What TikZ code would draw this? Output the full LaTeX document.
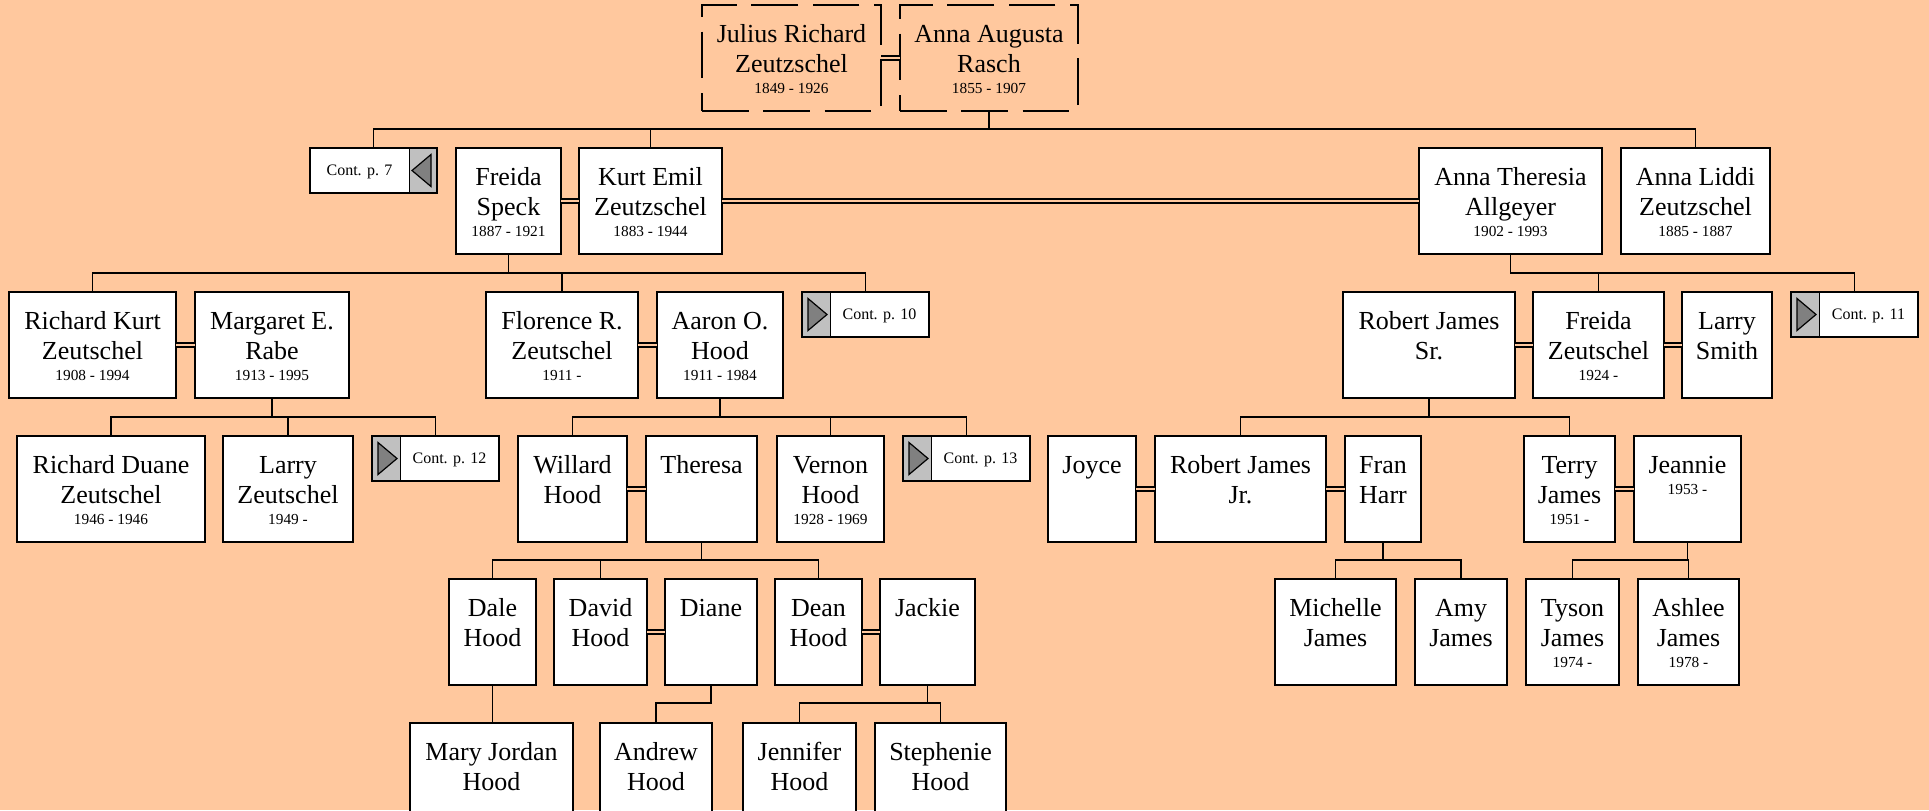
\documentclass[tikz,border=0pt]{standalone}
\usepackage{fontspec}
\setmainfont{Liberation Serif}
\definecolor{bg}{RGB}{255,200,158}
\definecolor{contgray}{RGB}{192,192,192}
\definecolor{trigray}{RGB}{128,128,128}
\newcommand\namefont{\fontsize{19.5}{22.5}\selectfont}
\newcommand\datefont{\fontsize{11.5}{15.75}\selectfont}
\newcommand\contfont{\fontsize{12}{14}\selectfont}
\newcommand\pers[3]{\parbox[c][79.5pt][t]{\dimexpr 0.75pt*#1\relax}{\centering\namefont\rule{0pt}{27.75pt}#2\par{\datefont #3\par}}}
\tikzset{
 person/.style={draw=black, line width=1.3pt, fill=white, inner sep=0pt, outer sep=0pt, anchor=north west},
 dperson/.style={person, fill=none, line width=1.1pt, dash pattern=on 35pt off 11pt},
 contbase/.style={draw=black, line width=1.3pt, fill=white, inner sep=0pt, outer sep=0pt, anchor=north west,
   minimum width=95.25pt, minimum height=33.75pt, text height=8.4pt, text depth=0.3pt, font=\contfont},
 contR/.style={contbase, path picture={
   \fill[contgray] (path picture bounding box.south west) rectangle ([xshift=21pt]path picture bounding box.north west);
   \draw[line width=0.6pt] ([xshift=21pt]path picture bounding box.south west) -- ([xshift=21pt]path picture bounding box.north west);
   \filldraw[fill=trigray, draw=black, line width=0.9pt] ([xshift=4.5pt,yshift=12pt]path picture bounding box.west) -- ([xshift=18.75pt]path picture bounding box.west) -- ([xshift=4.5pt,yshift=-12pt]path picture bounding box.west) -- cycle;
 }},
 contL/.style={contbase, path picture={
   \fill[contgray] (path picture bounding box.south east) rectangle ([xshift=-21pt]path picture bounding box.north east);
   \draw[line width=0.6pt] ([xshift=-21pt]path picture bounding box.south east) -- ([xshift=-21pt]path picture bounding box.north east);
   \filldraw[fill=trigray, draw=black, line width=0.9pt] ([xshift=-4.5pt,yshift=12pt]path picture bounding box.east) -- ([xshift=-18.75pt]path picture bounding box.east) -- ([xshift=-4.5pt,yshift=-12pt]path picture bounding box.east) -- cycle;
 }},
 conn/.style={draw=black, line width=1.3pt},
 marr/.style={draw=black, line width=1.2pt, double=bg, double distance=2.2pt},
}
\begin{document}
\begin{tikzpicture}[x=0.75pt,y=-0.75pt]
\useasboundingbox (0,0) rectangle (1929,810);
\clip (0,0) rectangle (1929,810);
\fill[bg] (0,0) rectangle (1929,810);
\coordinate (b1) at (0,129);
\coordinate (b2) at (0,273);
\coordinate (b3) at (0,417);
\coordinate (b4) at (0,560);
\coordinate (b5) at (0,703);
% generation 0
\node[dperson] (julius) at (702,5) {\pers{179}{Julius Richard\\Zeutzschel}{1849 - 1926}};
\node[dperson] (annaaug) at (900,5) {\pers{178}{Anna Augusta\\Rasch}{1855 - 1907}};
% generation 1
\node[contL] (cont7) at (310,148) {\makebox[74.25pt]{Cont. p. 7}\hspace*{21pt}};
\node[person] (freidaS) at (456,148) {\pers{105}{Freida\\Speck}{1887 - 1921}};
\node[person] (kurt) at (579,148) {\pers{143}{Kurt Emil\\Zeutzschel}{1883 - 1944}};
\node[person] (annaT) at (1419,148) {\pers{183}{Anna Theresia\\Allgeyer}{1902 - 1993}};
\node[person] (annaL) at (1621,148) {\pers{149}{Anna Liddi\\Zeutzschel}{1885 - 1887}};
% generation 2
\node[person] (richK) at (9,292) {\pers{167}{Richard Kurt\\Zeutschel}{1908 - 1994}};
\node[person] (margaret) at (195,292) {\pers{154}{Margaret E.\\Rabe}{1913 - 1995}};
\node[person] (florence) at (486,292) {\pers{152}{Florence R.\\Zeutschel}{1911 -}};
\node[person] (aaron) at (657,292) {\pers{126}{Aaron O.\\Hood}{1911 - 1984}};
\node[contR] (cont10) at (802,292) {\hspace*{21pt}\makebox[74.25pt]{Cont. p. 10}};
\node[person] (robertSr) at (1343,292) {\pers{172}{Robert James\\Sr.}{}};
\node[person] (freidaZ) at (1533,292) {\pers{131}{Freida\\Zeutschel}{1924 -}};
\node[person] (larryS) at (1682,292) {\pers{90}{Larry\\Smith}{}};
\node[contR] (cont11) at (1791,292) {\hspace*{21pt}\makebox[74.25pt]{Cont. p. 11}};
% generation 3
\node[person] (richD) at (17,436) {\pers{188}{Richard Duane\\Zeutschel}{1946 - 1946}};
\node[person] (larryZ) at (223,436) {\pers{130}{Larry\\Zeutschel}{1949 -}};
\node[contR] (cont12) at (372,436) {\hspace*{21pt}\makebox[74.25pt]{Cont. p. 12}};
\node[person] (willard) at (518,436) {\pers{109}{Willard\\Hood}{}};
\node[person] (theresa) at (646,436) {\pers{111}{Theresa}{}};
\node[person] (vernon) at (777,436) {\pers{107}{Vernon\\Hood}{1928 - 1969}};
\node[contR] (cont13) at (903,436) {\hspace*{21pt}\makebox[74.25pt]{Cont. p. 13}};
\node[person] (joyce) at (1048,436) {\pers{88}{Joyce}{}};
\node[person] (robertJr) at (1155,436) {\pers{171}{Robert James\\Jr.}{}};
\node[person] (fran) at (1345,436) {\pers{76}{Fran\\Harr}{}};
\node[person] (terry) at (1524,436) {\pers{91}{Terry\\James}{1951 -}};
\node[person] (jeannie) at (1634,436) {\pers{107}{Jeannie}{1953 -}};
% generation 4
\node[person] (dale) at (449,579) {\pers{87}{Dale\\Hood}{}};
\node[person] (david) at (554,579) {\pers{93}{David\\Hood}{}};
\node[person] (diane) at (665,579) {\pers{92}{Diane}{}};
\node[person] (dean) at (775,579) {\pers{87}{Dean\\Hood}{}};
\node[person] (jackie) at (880,579) {\pers{95}{Jackie}{}};
\node[person] (michelle) at (1275,579) {\pers{121}{Michelle\\James}{}};
\node[person] (amy) at (1415,579) {\pers{92}{Amy\\James}{}};
\node[person] (tyson) at (1526,579) {\pers{93}{Tyson\\James}{1974 -}};
\node[person] (ashlee) at (1638,579) {\pers{101}{Ashlee\\James}{1978 -}};
% generation 5
\node[person] (maryJ) at (410,723) {\pers{163}{Mary Jordan\\Hood}{}};
\node[person] (andrew) at (600,723) {\pers{112}{Andrew\\Hood}{}};
\node[person] (jennifer) at (743,723) {\pers{113}{Jennifer\\Hood}{}};
\node[person] (stephenie) at (875,723) {\pers{131}{Stephenie\\Hood}{}};
% marriages
\draw[marr] (julius.east) -- (annaaug.west);
\draw[marr] (freidaS.east) -- (kurt.west);
\draw[marr] (kurt.east) -- (annaT.west);
\draw[marr] (richK.east) -- (margaret.west);
\draw[marr] (florence.east) -- (aaron.west);
\draw[marr] (robertSr.east) -- (freidaZ.west);
\draw[marr] (freidaZ.east) -- (larryS.west);
\draw[marr] (willard.east) -- (theresa.west);
\draw[marr] (joyce.east) -- (robertJr.west);
\draw[marr] (robertJr.east) -- (fran.west);
\draw[marr] (terry.east) -- (jeannie.west);
\draw[marr] (david.east) -- (diane.west);
\draw[marr] (dean.east) -- (jackie.west);
% descent lines
\draw[conn] (annaaug.south) -- (annaaug.south |- b1);
\draw[conn] (cont7.north) |- (annaL.north |- b1) -- (annaL.north);
\draw[conn] (kurt.north) -- (kurt.north |- b1);
\draw[conn] (freidaS.south) -- (freidaS.south |- b2);
\draw[conn] (richK.north) |- (cont10.north |- b2) -- (cont10.north);
\draw[conn] (florence.north) -- (florence.north |- b2);
\draw[conn] (annaT.south) |- (cont11.north |- b2) -- (cont11.north);
\draw[conn] (freidaZ.north) -- (freidaZ.north |- b2);
\draw[conn] (margaret.south) -- (margaret.south |- b3);
\draw[conn] (richD.north) |- (cont12.north |- b3) -- (cont12.north);
\draw[conn] (larryZ.north) -- (larryZ.north |- b3);
\draw[conn] (aaron.south) -- (aaron.south |- b3);
\draw[conn] (willard.north) |- (cont13.north |- b3) -- (cont13.north);
\draw[conn] (vernon.north) -- (vernon.north |- b3);
\draw[conn] (robertSr.south) -- (robertSr.south |- b3);
\draw[conn] (robertJr.north) |- (terry.north |- b3) -- (terry.north);
\draw[conn] (theresa.south) -- (theresa.south |- b4);
\draw[conn] (dale.north) |- (dean.north |- b4) -- (dean.north);
\draw[conn] (david.north) -- (david.north |- b4);
\draw[conn] (fran.south) -- (fran.south |- b4);
\draw[conn] (michelle.north) |- (amy.north |- b4) -- (amy.north);
\draw[conn] (jeannie.south) -- (jeannie.south |- b4);
\draw[conn] (tyson.north) |- (ashlee.north |- b4) -- (ashlee.north);
\draw[conn] (dale.south) -- (dale.south |- maryJ.north);
\draw[conn] (diane.south) |- (andrew.north |- b5) -- (andrew.north);
\draw[conn] (jackie.south) -- (jackie.south |- b5);
\draw[conn] (jennifer.north) |- (stephenie.north |- b5) -- (stephenie.north);
\end{tikzpicture}
\end{document}
